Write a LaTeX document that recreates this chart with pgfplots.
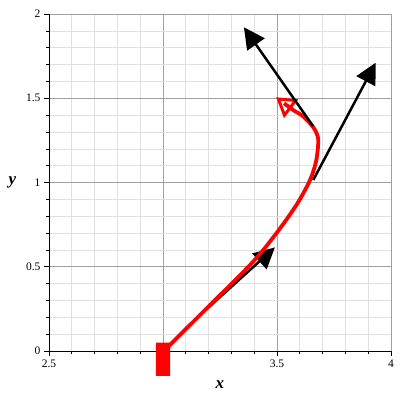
\documentclass[border=0pt]{standalone}
\usepackage{fontspec}
\setmainfont{Liberation Serif}
\usepackage{pgfplots}
\pgfplotsset{compat=1.18}
\usetikzlibrary{arrows.meta}
\definecolor{majgrid}{RGB}{160,160,160}
\definecolor{mingrid}{RGB}{224,224,224}
\definecolor{trajred}{RGB}{255,0,0}

\begin{document}
\begin{tikzpicture}
\begin{axis}[
  scale only axis, width=342pt, height=337pt,
  xmin=2.5, xmax=4, ymin=0, ymax=2,
  axis lines*=left, axis line style={black, line width=0.8pt},
  xtick={2.5,3,3.5,4}, xticklabels={2.5,,3.5,4},
  ytick={0,0.5,1,1.5,2}, yticklabels={0,0.5,1,1.5,2},
  minor x tick num=4, minor y tick num=4,
  grid=both,
  major grid style={majgrid, line width=0.6pt},
  minor grid style={mingrid, line width=0.6pt},
  tick align=outside, major tick length=5pt, minor tick length=3pt,
  tick style={black, line width=0.6pt},
  tick label style={font=\fontsize{11.5}{13}\selectfont},
  xlabel={\textbf{\textit{x}}}, ylabel={\textbf{\textit{y}}},
  every axis x label/.style={at={(axis description cs:0.5,-0.1)}, anchor=center, font=\fontsize{17}{20}\selectfont},
  every axis y label/.style={at={(axis description cs:-0.107,0.5)}, anchor=center, font=\fontsize{17}{20}\selectfont},
  clip=false,
]
% start marker
\addplot[draw=none, fill=trajred] coordinates {(2.969,0.049) (3.031,0.049) (3.031,-0.148) (2.969,-0.148) (2.969,0.049)};
% first direction arrow
\addplot[black, line width=2.5pt, -{Triangle[length=21pt,width=21pt]}] coordinates {(3.155,0.204) (3.491,0.615)};
% trajectory
\addplot[trajred, line width=3.8pt, smooth, -{Triangle[open,length=19pt,width=23pt,line width=3pt]}] coordinates {
  (3.023,0.026) (3.155,0.204) (3.36,0.48) (3.44,0.60) (3.52,0.74)
  (3.59,0.877) (3.645,1.015) (3.672,1.13) (3.681,1.252) (3.667,1.311)
  (3.645,1.351) (3.608,1.40) (3.571,1.43) (3.496,1.506)};
% other direction arrows
\addplot[black, line width=2.5pt, -{Triangle[length=21pt,width=21pt]}] coordinates {(3.659,1.015) (3.933,1.711)};
\addplot[black, line width=2.5pt, -{Triangle[length=21pt,width=21pt]}] coordinates {(3.658,1.335) (3.355,1.921)};
\end{axis}
\pgfresetboundingbox
\path ([shift={(-49pt,-49pt)}]current axis.south west) rectangle ([shift={(9pt,14pt)}]current axis.north east);
\end{tikzpicture}
\end{document}
